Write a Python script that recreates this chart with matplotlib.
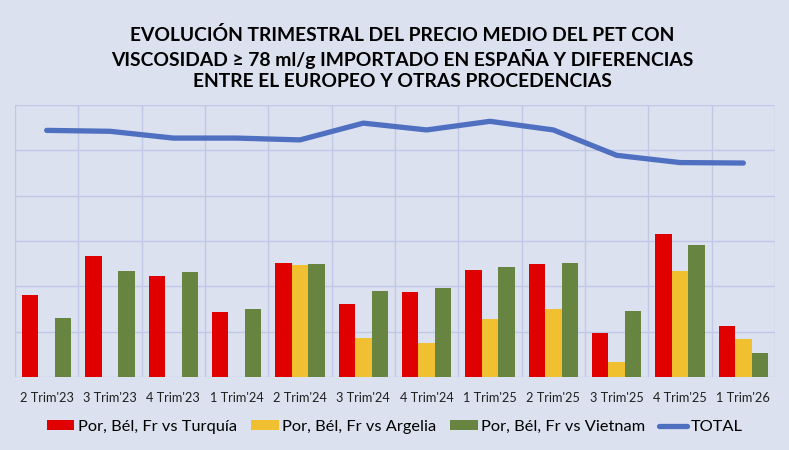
import numpy as np
import matplotlib.pyplot as plt

plt.rcParams['font.family'] = ['Lato', 'DejaVu Sans']

trimestres = ["2 Trim'23", "3 Trim'23", "4 Trim'23", "1 Trim'24", "2 Trim'24", "3 Trim'24",
              "4 Trim'24", "1 Trim'25", "2 Trim'25", "3 Trim'25", "4 Trim'25", "1 Trim'26"]
turquia = [1.81, 2.68, 2.23, 1.43, 2.52, 1.60, 1.87, 2.35, 2.49, 0.98, 3.15, 1.13]
argelia = [0, 0, 0, 0, 2.47, 0.85, 0.74, 1.27, 1.51, 0.32, 2.34, 0.83]
vietnam = [1.30, 2.34, 2.31, 1.51, 2.49, 1.90, 1.96, 2.43, 2.52, 1.45, 2.91, 0.52]
total = [5.44, 5.42, 5.27, 5.27, 5.23, 5.60, 5.45, 5.64, 5.45, 4.89, 4.73, 4.72]

bg = '#dce1f0'
fig = plt.figure(figsize=(7.89, 4.5), dpi=100, facecolor=bg)
ax = fig.add_axes([15 / 789, 1 - 377 / 450, 760 / 789, 272 / 450])
ax.set_facecolor(bg)

x = np.arange(len(trimestres))
w = 0.26
ax.bar(x - w, turquia, w, color='#e00000', label='Por, Bél, Fr vs Turquía', zorder=2)
ax.bar(x, argelia, w, color='#f0c030', label='Por, Bél, Fr vs Argelia', zorder=2)
ax.bar(x + w, vietnam, w, color='#678540', label='Por, Bél, Fr vs Vietnam', zorder=2)
ax.plot(x, total, color='#4f6fc0', lw=3.8, solid_capstyle='round', label='TOTAL', zorder=3)

ax.set_xlim(-0.5, len(trimestres) - 0.5)
ax.set_ylim(0, 6)
ax.set_yticks(range(7))
ax.set_yticklabels([])
ax.set_xticks(x)
ax.set_xticklabels(trimestres, fontsize=9.2, color='#202020')
ax.set_xticks(np.arange(-0.5, len(trimestres)), minor=True)
ax.tick_params(axis='both', which='both', length=0)
ax.tick_params(axis='x', pad=11)
ax.grid(axis='y', color='#bfc8e6', lw=1, zorder=0)
ax.grid(axis='x', which='minor', color='#bfc8e6', lw=1, zorder=0)
for s in ax.spines.values():
    s.set_visible(False)

fig.text(0.51, 1 - 58 / 450,
         'EVOLUCIÓN TRIMESTRAL DEL PRECIO MEDIO DEL PET CON\n'
         'VISCOSIDAD ≥ 78 ml/g IMPORTADO EN ESPAÑA Y DIFERENCIAS\n'
         'ENTRE EL EUROPEO Y OTRAS PROCEDENCIAS',
         ha='center', va='center', fontsize=13.9, fontweight='bold', linespacing=1.3)

handles, labels = ax.get_legend_handles_labels()
order = [1, 2, 3, 0]
fig.legend([handles[i] for i in order], [labels[i] for i in order],
           loc='center', bbox_to_anchor=(0.5, 1 - 427 / 450), ncol=4, frameon=False,
           fontsize=11.8, handlelength=1.7, handleheight=0.6, handletextpad=0.2,
           columnspacing=0.85)

fig.savefig('out.png', dpi=100, facecolor=bg)
